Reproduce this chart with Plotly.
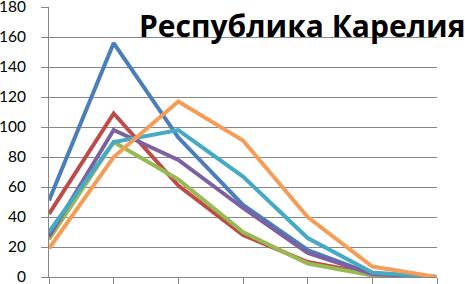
import plotly.graph_objects as go

categories = [1, 2, 3, 4, 5, 6, 7]
series_names = ["Серия 1", "Серия 2", "Серия 3", "Серия 4", "Серия 5", "Серия 6"]
s_blue = [51, 156, 93, 48, 18, 2, 0]
s_red = [42, 109, 61, 28, 10, 2, 0]
s_green = [25, 90, 65, 30, 9, 1, 0]
s_purple = [27, 98, 78, 46, 16, 2, 0]
s_teal = [30, 90, 98, 67, 26, 3, 0]
s_orange = [19, 80, 117, 91, 40, 7, 0]
y_ticks = [0, 20, 40, 60, 80, 100, 120, 140, 160, 180]
title_text = "Республика Карелия"

colors = ["#4A7EBB", "#BE4B48", "#98B954", "#7D60A0", "#46AAC5", "#F59D56"]
all_series = [s_blue, s_red, s_green, s_purple, s_teal, s_orange]

fig = go.Figure()
for name, vals, col in zip(series_names, all_series, colors):
    fig.add_trace(go.Scatter(x=categories, y=vals, mode="lines", name=name,
                             line=dict(color=col, width=4), cliponaxis=False))

fig.update_layout(
    width=465, height=284,
    margin=dict(l=49, r=28, t=7, b=7, autoexpand=False),
    paper_bgcolor="white", plot_bgcolor="white",
    showlegend=False,
    xaxis=dict(range=[1, 7], showgrid=False, showticklabels=False,
               tickvals=categories, ticks="outside", ticklen=6, tickcolor="#868686",
               showline=True, linecolor="#868686", linewidth=1, zeroline=False,
               automargin=False),
    yaxis=dict(range=[0, 180.01], tickvals=y_ticks, showgrid=True, gridcolor="#868686",
               gridwidth=1, showline=True, linecolor="#868686", linewidth=1,
               zeroline=False, ticks="outside", ticklen=7, tickcolor="#868686",
               ticklabelstandoff=12, automargin=False, ticklabeloverflow="allow",
               tickfont=dict(family="Lato", size=15.5, color="black")),
    annotations=[dict(text="<b>" + title_text + "</b>", xref="paper", yref="paper",
                      x=1.074, y=1.012, xanchor="right", yanchor="top", showarrow=False,
                      borderpad=0,
                      font=dict(family="Open Sans", size=30, color="black"))],
)

fig.write_html("out.html", config={"displayModeBar": False},
               post_script="document.body.style.margin='0';document.body.style.overflow='hidden';")
